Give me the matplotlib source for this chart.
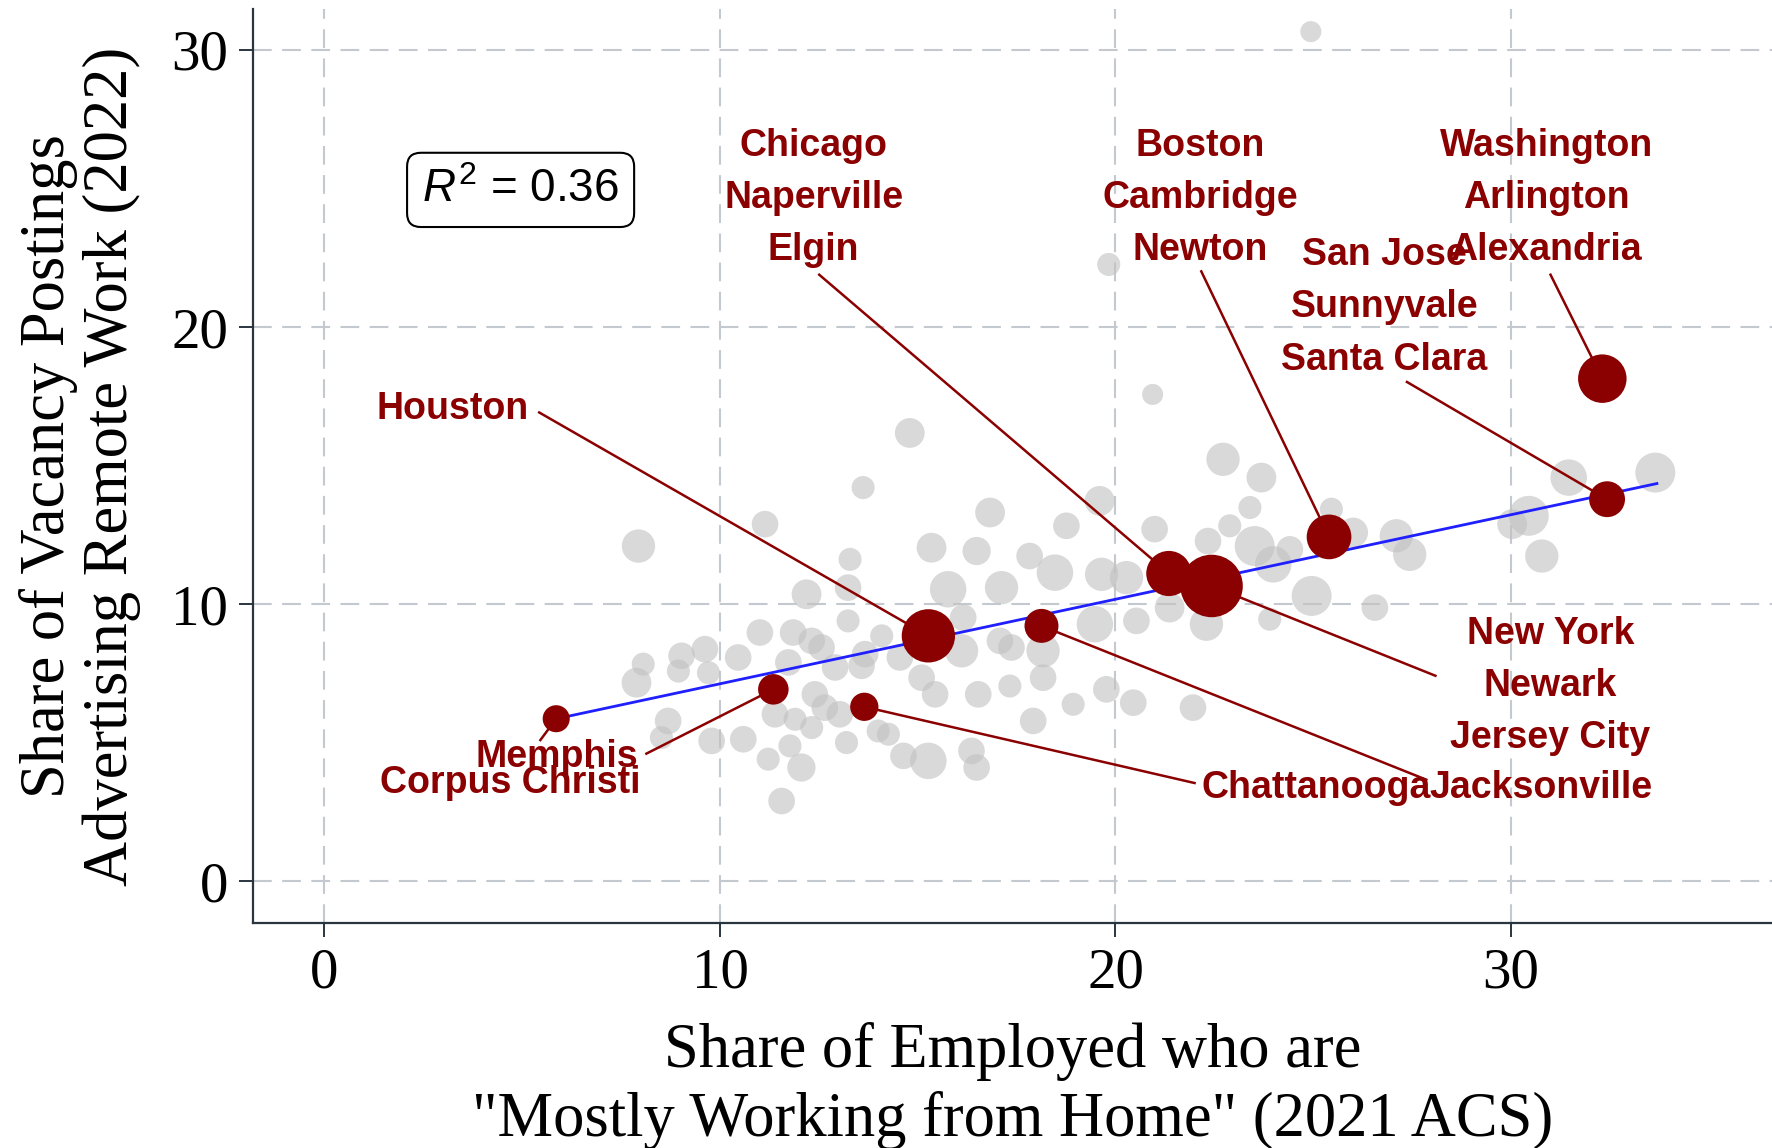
import matplotlib.pyplot as plt

plt.rcParams['mathtext.fontset'] = 'custom'
plt.rcParams['mathtext.rm'] = 'Liberation Sans'
plt.rcParams['mathtext.it'] = 'Liberation Sans:italic'

# gray metro areas (x = share WFH 2021 ACS, y = share remote postings 2022, pop = weight)
gray_x = [13.62, 16.83, 7.94, 11.14, 15.35, 16.49, 13.29, 12.19, 13.24, 15.77, 17.12, 13.24,
          11.01, 11.85, 12.32, 12.57, 13.67, 14.09, 14.55, 16.15, 16.11, 17.08, 17.37, 8.06,
          9.03, 9.62, 10.46, 8.95, 7.89, 9.71, 11.73, 12.91, 13.58, 15.10, 15.44, 16.53,
          17.33, 12.40, 12.65, 13.03, 11.39, 11.90, 12.32, 8.69, 8.52, 9.79, 10.59, 11.22,
          12.06, 11.77, 13.20, 14.00, 14.26, 14.64, 15.27, 16.36, 16.49, 11.56,
          22.72, 23.69, 23.40, 25.46, 22.89, 18.76, 19.60, 20.99, 22.34, 17.83, 18.47, 19.65,
          20.28, 23.52, 23.99, 24.41, 26.01, 27.10, 27.44, 24.96, 26.56, 23.90, 22.30, 21.37,
          20.53, 19.48, 18.17, 18.17, 19.77, 20.45, 21.96, 18.93, 17.92,
          31.46, 30.45, 30.03, 30.78, 33.65, 24.94, 19.83, 20.94, 14.80]
gray_y = [14.21, 13.31, 12.10, 12.89, 12.04, 11.92, 11.62, 10.36, 10.60, 10.54, 10.60, 9.40,
          8.98, 8.98, 8.68, 8.44, 8.20, 8.86, 8.08, 9.52, 8.32, 8.68, 8.44, 7.84,
          8.14, 8.38, 8.08, 7.59, 7.17, 7.53, 7.90, 7.72, 7.78, 7.35, 6.75, 6.75,
          7.05, 6.75, 6.27, 6.03, 6.03, 5.85, 5.55, 5.79, 5.19, 5.07, 5.13, 4.41,
          4.11, 4.89, 5.01, 5.43, 5.31, 4.53, 4.35, 4.71, 4.11, 2.90,
          15.23, 14.57, 13.49, 13.43, 12.83, 12.83, 13.73, 12.71, 12.28, 11.74, 11.14, 11.08,
          10.96, 12.10, 11.44, 11.98, 12.59, 12.47, 11.80, 10.30, 9.88, 9.46, 9.28, 9.88,
          9.40, 9.28, 8.32, 7.35, 6.93, 6.45, 6.27, 6.39, 5.79,
          14.57, 13.19, 12.89, 11.74, 14.75, 30.66, 22.26, 17.57, 16.18]
gray_pop = [12, 20, 25, 16, 20, 18, 12, 20, 16, 30, 25, 12,
            16, 16, 16, 16, 16, 12, 16, 16, 25, 16, 16, 12,
            16, 16, 16, 12, 20, 12, 16, 16, 16, 16, 16, 16,
            12, 16, 16, 16, 16, 12, 12, 16, 12, 16, 16, 12,
            18, 12, 12, 12, 12, 16, 30, 16, 16, 16,
            25, 20, 12, 12, 12, 16, 20, 16, 16, 16, 30, 25,
            25, 36, 30, 16, 20, 25, 25, 36, 16, 12, 25, 20,
            16, 30, 25, 16, 16, 16, 16, 12, 16,
            30, 36, 20, 25, 36, 10, 12, 10, 20]

# highlighted metro areas
hl_x = [32.31, 32.43, 25.40, 22.43, 21.35, 15.27, 18.13, 11.35, 13.65, 5.86]
hl_y = [18.14, 13.79, 12.43, 10.66, 11.11, 8.86, 9.22, 6.93, 6.30, 5.87]
hl_pop = [53, 29, 45, 88, 46, 64, 26, 21, 18, 16.5]
hl_text = ["Washington\nArlington\nAlexandria", "San Jose\nSunnyvale\nSanta Clara",
           "Boston\nCambridge\nNewton", "New York\nNewark\nJersey City",
           "Chicago\nNaperville\nElgin", "Houston", "Jacksonville", "Memphis",
           "Chattanooga", "Corpus Christi"]
lab_x = [30.89, 26.80, 22.14, 31.00, 12.37, 5.17, 27.94, 7.94, 22.17, 8.00]
lab_y = [24.66, 20.71, 24.66, 7.05, 24.66, 17.04, 3.38, 4.48, 3.38, 3.55]
lab_ha = ["center", "center", "center", "center", "center", "right", "left", "right", "left", "right"]
conn_x = [31.00, 27.37, 22.17, 28.09, 12.51, 5.43, 27.86, 8.14, 22.00, 5.46]
conn_y = [21.89, 18.02, 22.01, 7.42, 21.89, 16.92, 3.67, 4.61, 3.55, 5.10]

# fitted line
fit_intercept = 4.08
fit_slope = 0.305
fit_x = [5.86, 33.69]
r2_text = r"$\mathit{R}^{2}$ = 0.36"

maroon = "#8b0000"

fig = plt.figure(figsize=(17.72, 11.48), dpi=100)
ax = fig.add_axes([0.1428, 0.196, 0.8572, 0.796])

ax.scatter(gray_x, gray_y, s=[p * 23 for p in gray_pop], color="#c2c2c2", alpha=0.62,
           linewidths=0, zorder=2)
ax.plot(fit_x, [fit_intercept + fit_slope * v for v in fit_x], color="#1f1fff", lw=2, zorder=3)

for i in range(len(hl_x)):
    ax.plot([conn_x[i], hl_x[i]], [conn_y[i], hl_y[i]], color=maroon, lw=1.8, zorder=4)
    ax.text(lab_x[i], lab_y[i], hl_text[i], ha=lab_ha[i], va="center", color=maroon,
            fontsize=27, fontweight="bold", family="Liberation Sans", linespacing=1.58, zorder=6)
ax.scatter(hl_x, hl_y, s=[p * 23 for p in hl_pop], color=maroon, linewidths=0, zorder=5)

ax.text(4.96, 24.95, r2_text, ha="center", va="center", fontsize=33, family="Liberation Sans",
        bbox=dict(boxstyle="round,pad=0.33,rounding_size=0.3", fc="white", ec="black", lw=1.5))

ax.set_xlim(-1.805, 36.6)
ax.set_ylim(-1.5, 31.47)
ax.set_xticks([0, 10, 20, 30])
ax.set_yticks([0, 10, 20, 30])
ax.grid(True, color="#c3c9cf", lw=1.5, linestyle=(0, (9, 5)), zorder=0)
ax.set_axisbelow(True)

for side in ["top", "right"]:
    ax.spines[side].set_visible(False)
for side in ["left", "bottom"]:
    ax.spines[side].set_color("#2b3540")
    ax.spines[side].set_linewidth(1.6)
ax.tick_params(length=10, width=1.4, color="#2b3540", pad=8, labelsize=41)
for lbl in ax.get_xticklabels() + ax.get_yticklabels():
    lbl.set_family("Liberation Serif")

ax.set_xlabel('Share of Employed who are\n"Mostly Working from Home" (2021 ACS)',
              family="Liberation Serif", fontsize=45, linespacing=1.22)
ax.xaxis.set_label_coords(0.5, -0.108)
ax.xaxis.label.set_va("top")
ax.set_ylabel("Share of Vacancy Postings\nAdvertising Remote Work (2022)",
              family="Liberation Serif", fontsize=45, linespacing=1.1)
ax.yaxis.set_label_coords(-0.074, 0.5)

fig.savefig("out.png", dpi=100)
